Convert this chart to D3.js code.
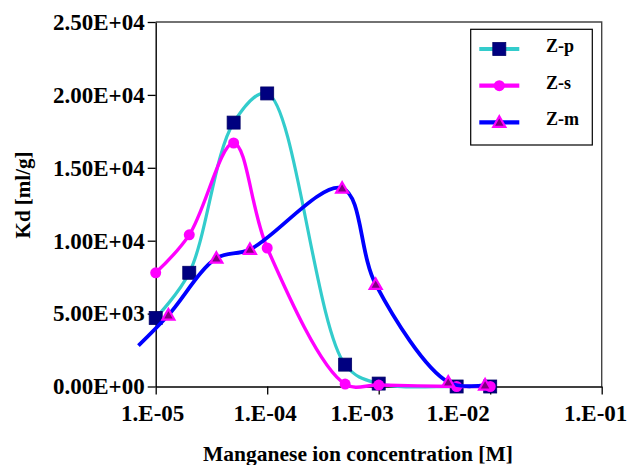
<!DOCTYPE html>
<html><head><meta charset="utf-8">
<script src="https://cdn.jsdelivr.net/npm/d3@7"></script>
<style>
body{margin:0;background:#fff}
</style>
</head><body><svg id="c" width="629" height="465"></svg>
<script>
// ---- data ----
const seriesNames = ["Z-p", "Z-s", "Z-m"];
const zpX = [1e-5, 2e-5, 5e-5, 1e-4, 5e-4, 1e-3, 5e-3, 1e-2];
const zpY = [4700, 7800, 18100, 20100, 1500, 200, 0, 0];
const zsX = [1e-5, 2e-5, 5e-5, 1e-4, 5e-4, 1e-3, 5e-3, 1e-2];
const zsY = [7800, 10400, 16700, 9500, 170, 100, 0, 0];
const zmX = [7e-6, 1.3e-5, 3.5e-5, 7e-5, 4.7e-4, 9.4e-4, 4.2e-3, 9e-3];
const zmY = [2800, 4900, 8800, 9400, 13600, 7000, 300, 100];
const xTicks = [1e-5, 1e-4, 1e-3, 1e-2, 1e-1];
const xTickLabels = ["1.E-05", "1.E-04", "1.E-03", "1.E-02", "1.E-01"];
const yTicks = [0, 5000, 10000, 15000, 20000, 25000];
const yTickLabels = ["0.00E+00", "5.00E+03", "1.00E+04", "1.50E+04", "2.00E+04", "2.50E+04"];
const xTitle = "Manganese ion concentration [M]";
const yTitle = "Kd [ml/g]";

// label nudges to mimic the reference placement
const xLabelNudge = [-3.5, -2.5, -17, -32.5, -6.5];

const FONT = '"Liberation Serif", monospace';
const svg = d3.select("#c");
const L = 155.7, R = 601.7, T = 22, B = 386.5;
const x = d3.scaleLog().domain([1e-5, 1e-1]).range([L, R]);
const y = d3.scaleLinear().domain([0, 25000]).range([B, T]);

// plot border (top/right)
svg.append("path").attr("d", `M${L},${T}H${R}V${B}`).attr("fill", "none")
  .attr("stroke", "#444").attr("stroke-width", 1.4);

// axes
const ya = svg.append("g").attr("transform", `translate(${L},0)`)
  .call(d3.axisLeft(y).tickValues(yTicks).tickFormat((d, i) => yTickLabels[i])
    .tickSize(8).tickSizeOuter(0).tickPadding(3));
const xa = svg.append("g").attr("transform", `translate(0,${B})`)
  .call(d3.axisBottom(x).tickValues(xTicks).tickFormat((d, i) => xTickLabels[i])
    .tickSize(8).tickSizeOuter(0).tickPadding(10));
[ya, xa].forEach(a => a.attr("font-family", null).attr("font-size", null));
ya.selectAll("text").style("font-size", "23px");
xa.selectAll("text").style("font-size", "23px").attr("dx", (d, i) => xLabelNudge[i]);
svg.selectAll(".domain").attr("stroke", "#000").attr("stroke-width", 1.4);
svg.selectAll(".tick line").attr("stroke", "#000").attr("stroke-width", 1.3);

// titles
svg.append("text").attr("transform", "translate(23,195) rotate(-90)")
  .attr("text-anchor", "middle").attr("dominant-baseline", "central")
  .style("font-size", "21px").text(yTitle);
svg.append("text").attr("x", 358).attr("y", 461).attr("text-anchor", "middle")
  .style("font-size", "21.5px").text(xTitle);

// series
const series = [
  {name: seriesNames[0], xs: zpX, ys: zpY, line: "#33CCCC", lw: 3.2, marker: "square"},
  {name: seriesNames[1], xs: zsX, ys: zsY, line: "#FF00FF", lw: 3.4, marker: "circle"},
  {name: seriesNames[2], xs: zmX, ys: zmY, line: "#0000FF", lw: 3.8, marker: "triangle"}
];
const lineGen = d3.line().x(d => x(d[0])).y(d => y(d[1])).curve(d3.curveCatmullRom.alpha(0.5));

function drawMarker(g, type, cx, cy) {
  if (type === "square") {
    g.append("rect").attr("x", cx - 6.5).attr("y", cy - 6.5).attr("width", 13).attr("height", 13)
      .attr("fill", "#000080").attr("stroke", "#000066").attr("stroke-width", 0.8);
  } else if (type === "circle") {
    g.append("circle").attr("cx", cx).attr("cy", cy).attr("r", 5.5).attr("fill", "#FF00FF");
  } else {
    const s = 6;
    g.append("path").attr("d", `M${cx},${cy - s}L${cx + s},${cy + s * 0.75}L${cx - s},${cy + s * 0.75}Z`)
      .attr("fill", "#800080").attr("stroke", "#FF00FF").attr("stroke-width", 2.2).attr("stroke-linejoin", "miter");
  }
}

series.forEach(s => {
  const pts = s.xs.map((v, i) => [v, s.ys[i]]);
  svg.append("path").datum(pts).attr("d", lineGen).attr("fill", "none")
    .attr("stroke", s.line).attr("stroke-width", s.lw).attr("stroke-linejoin", "round");
  const g = svg.append("g");
  pts.filter(p => p[0] >= x.domain()[0]).forEach(p => drawMarker(g, s.marker, x(p[0]), y(p[1])));
});

// legend
const lg = svg.append("g");
lg.append("rect").attr("x", 470.7).attr("y", 29.3).attr("width", 121.6).attr("height", 115.7)
  .attr("fill", "#fff").attr("stroke", "#000").attr("stroke-width", 1.2);
const rows = [49, 85.7, 122.3];
series.forEach((s, i) => {
  lg.append("line").attr("x1", 479.3).attr("x2", 519.3).attr("y1", rows[i]).attr("y2", rows[i])
    .attr("stroke", s.line).attr("stroke-width", 4.2);
  drawMarker(lg, s.marker, 499.3, rows[i]);
  lg.append("text").attr("x", 546).attr("y", rows[i] + 3).style("font-size", "18px").text(s.name);
});

svg.selectAll("text").attr("font-family", FONT).style("font-family", FONT)
  .style("font-weight", "bold").attr("fill", "#000");
</script></body></html>
